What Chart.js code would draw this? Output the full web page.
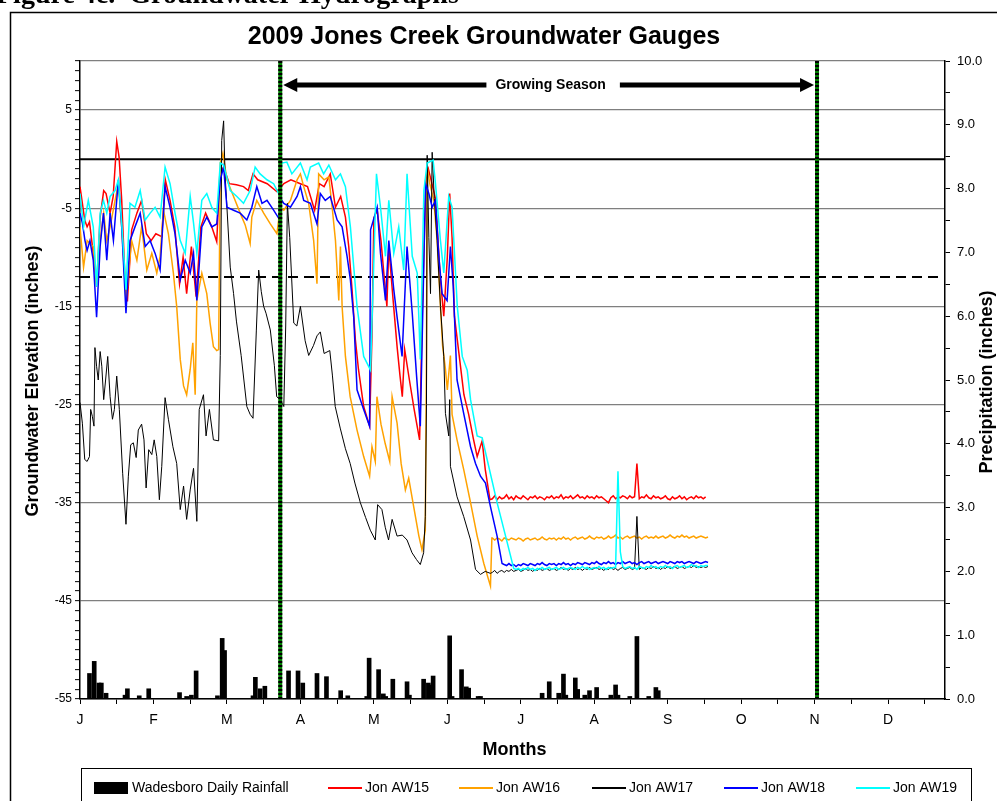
<!DOCTYPE html>
<html>
<head>
<meta charset="utf-8">
<script src="https://cdn.jsdelivr.net/npm/chart.js@4.4.1/dist/chart.umd.min.js"></script>
<style>
  html, body { margin: 0; padding: 0; background: #fff; }
  canvas { display: block; }
</style>
</head>
<body>
<canvas id="chart" width="997" height="801"></canvas>
<script>
// x values are day of year (0 = Jan 1), y values are inches
const monthLabels = ['J', 'F', 'M', 'A', 'M', 'J', 'J', 'A', 'S', 'O', 'N', 'D'];
const leftMajorTicks = [-55, -45, -35, -25, -15, -5, 5];
const seasonStart = 84.5;
const seasonEnd = 311;
const referenceLevel = 0;
const criterionLevel = -12;

const rainDays = [4, 6, 8, 9, 11, 19, 20, 25, 29, 42, 45, 47, 49, 58, 60, 61, 73, 74, 76, 78, 88, 92, 94, 100, 104,
  110, 113, 121, 122, 126, 128, 129, 132, 138, 139, 145, 147, 148, 149, 156, 157, 161, 163, 164, 168, 169,
  195, 198, 202, 204, 205, 209, 210, 213, 215, 218, 224, 226, 227, 232, 235, 240, 243, 244];
const rainInches = [0.40, 0.59, 0.25, 0.25, 0.09, 0.06, 0.16, 0.05, 0.16, 0.10, 0.04, 0.06, 0.44, 0.05, 0.95, 0.76,
  0.05, 0.34, 0.16, 0.20, 0.44, 0.44, 0.25, 0.40, 0.35, 0.13, 0.05, 0.04, 0.64, 0.46, 0.08, 0.04, 0.31, 0.27, 0.06,
  0.31, 0.25, 0.22, 0.36, 0.99, 0.04, 0.46, 0.19, 0.17, 0.04, 0.04, 0.09, 0.27, 0.09, 0.39, 0.06, 0.33, 0.15, 0.06,
  0.13, 0.18, 0.06, 0.22, 0.06, 0.04, 0.98, 0.04, 0.18, 0.13];

// winter / spring readings: [day, inches]
const aw15 = [[0,-2.8],[1,-4.5],[2,-6.2],[3,-6.9],[4,-6.4],[5.6,-9.6],[7,-13],[8.5,-5.9],[10,-3.2],[11,-3.5],
  [12.7,-5.5],[14,-3.8],[15.5,1.8],[16.5,0.2],[17.6,-4.2],[19,-12.3],[20,-14.5],[21.8,-7.2],[24,-5.5],[26,-4.2],
  [28,-7.6],[30,-8.3],[32,-7.6],[34.5,-7.9],[36,-2.1],[38,-4.2],[40,-6.9],[42,-12.7],[43.5,-10],[45,-13.7],
  [47,-8.9],[49,-14],[51,-6.9],[53,-5.5],[55.6,-6.9],[57.7,-8.4],[59,-1.5],[60.6,-0.8],[63,-2.5],[66,-2.6],
  [69,-2.8],[71,-3.2],[73,-1.5],[75,-2.1],[79,-2.5],[83,-3.3],[86,-2.5],[89,-2.1],[93,-2.5],[96,-2.8],[99,-5.2],
  [101,-2.5],[103,-2.8],[105.6,-1.5],[107.8,-4.9],[110,-3.8],[112,-5.9],[113.4,-8.9],[114.8,-13.3],[116.2,-18.4],
  [117.5,-21.4],[119.7,-25.2],[122.2,-27.2],[123.2,-18],[124,-6],[125.4,-5.2],[127,-8.3],[128.2,-11.6],
  [129.5,-15],[130.3,-8.9],[132,-14],[133.8,-19.1],[135,-22],[136,-24.2],[137,-19.4],[139,-22.5],[141,-25.5],
  [143.3,-28.6],[144.5,-15],[146,-2],[147,-1],[148.5,-2.5],[150,-4],[151,-8],[152,-12],[153.5,-16],[155,-10],
  [156,-3.5],[157,-8],[158,-16],[160,-20],[162,-24],[164,-26],[166,-28.5],[167.6,-30.3],[169.7,-28.7],
  [171,-31.6],[173,-34.7]];

const aw16 = [[0,-6.9],[1.5,-11],[3,-8.3],[5.6,-8.9],[7,-12.7],[8.5,-8.3],[10,-5.5],[11.3,-8.3],[12.7,-6.9],
  [14.8,-4.2],[16.2,-2.5],[17.6,-6.9],[19.4,-14.4],[21.8,-8.3],[24,-10.3],[26,-6.9],[28.2,-11.3],[30.3,-9.6],
  [32.4,-11.6],[33.8,-9.9],[35.2,-5.2],[37.3,-7.6],[39.4,-11.6],[40.8,-15],[42.3,-20.4],[43.7,-23.1],[45,-24],
  [46.5,-21.4],[47.6,-18.7],[48.6,-24],[49.3,-14.4],[51.4,-11.6],[53.5,-13.7],[54.9,-16.7],[56.3,-19.1],
  [57.7,-19.5],[58.5,-19.4],[59.2,-0.4],[60.3,0.6],[62,-2.1],[64.8,-3.8],[67.6,-5.5],[69.7,-6.7],[71.8,-8.6],
  [72.5,-5.9],[74.6,-4.2],[77.5,-5.5],[80.3,-6.6],[83.1,-7.6],[84.5,-4.9],[86,-5.2],[88.8,-4.2],[91.6,-2.1],
  [93,-1.5],[94.4,-2.8],[96.5,-4.5],[98.6,-8.3],[100,-12.7],[100.7,-1.5],[103,-2.1],[105,-1.8],[106.4,-4.9],
  [107.8,-8.3],[109.2,-14.4],[109.9,-8.9],[110.6,-15],[112,-20.1],[114,-24.2],[116.9,-27.6],[119.7,-30.3],
  [122.2,-32.3],[123.2,-29.3],[124.6,-30.8],[125.3,-24.2],[127,-27],[128.8,-29],[130.7,-30.8],[131.7,-24.2],
  [133.8,-26.9],[135.5,-31],[137.3,-33.7],[138.7,-32.5],[140.8,-35.4],[143,-38.4],[144.3,-39.8],[145.7,-37.8],
  [146.2,-20],[146.5,-0.8],[147.6,-2.5],[149.3,-4.2],[150.7,-8.3],[152.1,-15],[153,-19],[154.2,-21.4],
  [155,-23.5],[156.3,-20],[157,-26],[159.1,-28.6],[161.9,-31.6],[164.8,-35],[167.6,-38.4],[170.4,-41.2],
  [173.2,-43.5],[173.8,-38.6]];

const aw17 = [[0,-24.8],[1,-26.9],[2,-30.6],[3,-30.8],[4,-30.3],[4.5,-25.5],[5.2,-26.2],[5.9,-27.2],[6.3,-19.2],
  [7,-21.1],[7.7,-22.5],[8.5,-19.6],[9.2,-21.1],[10,-24.5],[10.8,-22.5],[11.7,-20.1],[12.7,-24.2],[13.7,-26.5],
  [14.5,-25.5],[15.5,-22.1],[16.6,-25.5],[18,-32],[19.4,-37.2],[20.4,-32.3],[21.4,-29.1],[22.5,-28.9],
  [23.7,-30.4],[24.6,-27.6],[26,-27],[27,-28.6],[27.9,-33.5],[29,-29.6],[30.3,-30.1],[31.3,-28.6],[32.4,-30.3],
  [33.5,-34.7],[34.5,-31.3],[35.9,-24.3],[37.3,-26.5],[39.2,-29.3],[40.8,-31],[42.3,-35.7],[43.7,-33.3],
  [45,-36.7],[46.5,-33.7],[47.9,-31.5],[49.3,-36.9],[50.3,-25.5],[52.1,-24],[53.2,-28.2],[54.6,-25.5],
  [56.3,-28.6],[58.5,-28.7],[59.2,-20],[59.8,1.9],[60.6,3.9],[61.2,-1.5],[62,-4.9],[63.4,-11],[64.8,-13.7],
  [66,-16.5],[68,-20],[70.4,-25.2],[71.8,-26],[73,-26.4],[74.4,-17.5],[75.4,-11.3],[76.5,-13.5],[77.5,-15],
  [78.5,-15.7],[80.3,-17.4],[82,-21],[83,-24.2],[84.5,-24.5],[86,-25.2],[86.8,-17],[87.5,-4.5],[88.5,-8],
  [89.2,-11.6],[90.2,-16.7],[91.5,-17],[93,-15],[95,-18.5],[96.5,-20],[98.5,-19],[100,-18],[101.4,-17.6],
  [103,-19.8],[105.4,-19.5],[106.5,-22],[107.7,-25.2],[109.8,-27.4],[112,-29.5],[114,-31],[116,-33],
  [118.3,-35],[120.5,-36.5],[122.5,-37.8],[124.6,-38.8],[125.6,-35.2],[127.4,-35.7],[128.8,-37.5],[130.2,-38.8],
  [131.7,-36.7],[133.8,-38.4],[136,-38.3],[138,-38.8],[140.1,-40.1],[142,-40.8],[143.6,-41.3],[145,-40.1],
  [145.7,-36.4],[146.2,-25],[146.5,0.4],[147.2,-8],[147.9,-13.7],[148.6,0.7],[149.5,-4],[150.7,-8.3],
  [152.1,-15],[153.5,-20.1],[154.2,-25.9],[155.6,-28.2],[156,-24.5],[156.3,-31.3],[159.1,-34.4],[161.9,-36.4],
  [164.8,-38.8],[166.9,-41.8],[169,-42.3],[171,-42],[173.2,-42.2]];

const aw18 = [[0,-5.5],[1,-6.5],[2.1,-8.3],[3,-9.3],[4.2,-8.3],[5.6,-10.3],[7,-16.1],[8.5,-8.9],[9.9,-5.5],
  [11.3,-10.3],[12.7,-5.5],[14.1,-8.3],[16.2,-2.1],[17.6,-6.9],[19.4,-15.7],[21.1,-8.3],[23.2,-6.9],[25.4,-5.5],
  [27.5,-8.9],[29.6,-8.3],[31.7,-9.6],[33.8,-11.3],[35.9,-2.8],[38,-4.9],[40.1,-7.6],[42.3,-12.3],[44.4,-10.3],
  [46.5,-11.6],[47.9,-9.6],[49.3,-14.4],[51.4,-6.9],[53.5,-5.9],[55.6,-6.9],[57.7,-6.6],[59.2,-2.1],[60.6,-0.8],
  [62,-4.9],[64.8,-5.2],[67.6,-5.5],[70.4,-6.2],[72.5,-4.9],[74.6,-2.8],[76.8,-4.5],[78.9,-4.2],[81.7,-5.2],
  [83.8,-6],[85.2,-4.2],[86,-4.5],[88.8,-4.9],[91.6,-3.8],[93,-2.8],[94.4,-4.2],[97.2,-4.5],[100,-6.6],
  [101.4,-3.5],[103.5,-4.2],[105.6,-3.8],[108.5,-6.2],[110.6,-6.9],[112.7,-9.9],[114.1,-12.3],[115.5,-16.1],
  [116.9,-23.5],[119.7,-25.5],[122.2,-27.2],[122.6,-7.2],[125.4,-4.9],[126.8,-9.6],[128.9,-14.4],[130.3,-8.3],
  [132.4,-13.3],[133.8,-16.1],[135.9,-20.1],[138,-8.9],[140.2,-15.7],[142,-22],[143.6,-27.2],[145.8,-2.5],
  [147.2,-3.5],[148.6,-4.9],[150,-4.2],[151.4,-9.9],[152.8,-13.7],[154.9,-14.4],[156.3,-8.9],[157.5,-13],
  [159.1,-22.5],[161.9,-25.9],[164.8,-29.3],[166.9,-31],[169,-32.3],[171.1,-33],[173.2,-35.4],[176,-38.4],
  [178.1,-41.2]];

const aw19 = [[0,-3.5],[1.5,-6.9],[3.5,-4.2],[5.6,-6.9],[7,-13],[8.5,-5.5],[9.9,-4.2],[11.3,-5.5],[12.7,-3.8],
  [14.8,-3.2],[16.2,-2.1],[17.6,-6.5],[19.4,-13.3],[21.1,-4.5],[23.2,-4.9],[25.4,-3.2],[27.5,-6.2],[29.6,-5.5],
  [31.7,-4.9],[33.8,-5.9],[35.9,-0.8],[38,-2.5],[40.1,-5.5],[42.3,-8.3],[44.4,-9.6],[46.5,-3.8],[47.9,-6.5],
  [49.3,-9.6],[51.4,-4.2],[53.5,-3.5],[55.6,-4.9],[57.7,-5.5],[59.2,-0.4],[60.6,-0.6],[63.4,-3.2],[66.2,-3.8],
  [69,-4.5],[71.8,-3.2],[73.9,-0.8],[76,-1.5],[78.9,-2.1],[81.7,-2.5],[83.8,-3.5],[85.2,-0.4],[87.3,-0.3],
  [89.4,-1.5],[93,-0.4],[95.8,-2.1],[97.2,-0.8],[100.7,-0.4],[102.8,-1.5],[105,-0.6],[107.8,-2.1],[109.9,-1.5],
  [112,-2.8],[114.1,-6.9],[116.9,-15],[119.7,-20.1],[122.6,-21.5],[125.1,-1.5],[126.8,-4.9],[128.9,-9.9],
  [130.3,-4.2],[132.4,-9.6],[134.5,-6.9],[136.6,-11.3],[138,-1.5],[140.2,-9.9],[142.3,-11.6],[143.6,-20.4],
  [145.1,-3.2],[146.5,-0.4],[149,-0.1],[150,-2.5],[152.1,-8.3],[153.5,-11.6],[155.6,-3.8],[157,-4.9],
  [159.2,-15],[161.3,-20.1],[163.4,-21.5],[164.8,-24.5],[167.6,-28.2],[169.7,-28.4],[171.8,-30.6],[176,-35],
  [180.3,-39.1],[183,-41.7]];

// summer readings, one per day from the given start day
const aw15LateStart = 174;
const aw15Late = [-34.6,-34.3,-34.7,-34.4,-34.6,-34.5,-34.2,-34.6,-34.4,-34.7,
  -34.3,-34.5,-34.6,-34.3,-34.5,-34.7,-34.4,-34.5,-34.3,-34.6,
  -34.4,-34.5,-34.7,-34.4,-34.5,-34.3,-34.6,-34.4,-34.5,-34.2,
  -34.6,-34.4,-34.5,-34.3,-34.6,-34.4,-34.2,-34.5,-34.4,-34.6,
  -34.3,-34.5,-34.4,-34.6,-34.3,-34.5,-34.4,-34.6,-34.8,-35.0,
  -34.5,-34.3,-34.6,-34.4,-34.5,-34.3,-34.4,-34.6,-34.3,-34.5,
  -34.4,-31.0,-34.6,-34.4,-34.5,-34.2,-34.5,-34.6,-34.3,-34.5,
  -34.4,-34.6,-34.5,-34.3,-34.6,-34.7,-34.4,-34.6,-34.5,-34.3,
  -34.6,-34.4,-34.7,-34.5,-34.4,-34.6,-34.3,-34.5,-34.4,-34.6,
  -34.4];
const aw16LateStart = 174;
const aw16Late = [-38.6,-38.8,-38.6,-38.7,-38.9,-38.6,-38.7,-38.8,-38.6,-38.7,
  -38.8,-38.6,-38.7,-38.9,-38.7,-38.6,-38.8,-38.7,-38.6,-38.8,
  -38.7,-38.5,-38.7,-38.8,-38.6,-38.7,-38.6,-38.8,-38.6,-38.7,
  -38.5,-38.7,-38.6,-38.8,-38.6,-38.5,-38.7,-38.6,-38.5,-38.7,
  -38.6,-38.4,-38.6,-38.7,-38.5,-38.6,-38.5,-38.7,-38.6,-38.4,
  -38.6,-38.5,-38.3,-38.6,-38.5,-38.7,-38.5,-38.4,-38.6,-38.5,
  -38.4,-38.6,-38.5,-38.7,-38.5,-38.4,-38.6,-38.5,-38.6,-38.4,
  -38.6,-38.5,-38.4,-38.6,-38.5,-38.3,-38.5,-38.6,-38.4,-38.5,
  -38.3,-38.5,-38.4,-38.6,-38.5,-38.4,-38.6,-38.5,-38.4,-38.5,
  -38.6,-38.5];
const aw17LateStart = 174;
const aw17Late = [-42.1,-41.9,-42.2,-42.0,-41.9,-42.1,-41.9,-42.0,-41.8,-42.0,
  -41.9,-41.8,-42.0,-41.9,-41.7,-41.9,-41.8,-42.0,-41.8,-41.9,
  -41.7,-41.9,-41.8,-41.7,-41.9,-41.8,-41.7,-41.9,-41.8,-41.6,
  -41.8,-41.7,-41.9,-41.7,-41.8,-41.6,-41.8,-41.7,-41.9,-41.7,
  -41.8,-41.6,-41.8,-41.7,-41.6,-41.8,-41.7,-41.9,-41.7,-41.8,
  -41.6,-41.8,-41.7,-41.9,-41.7,-41.6,-41.8,-41.7,-41.6,-41.8,
  -41.7,-36.4,-41.8,-41.6,-41.7,-41.8,-41.6,-41.7,-41.5,-41.7,
  -41.6,-41.8,-41.6,-41.7,-41.5,-41.7,-41.6,-41.5,-41.7,-41.6,
  -41.5,-41.7,-41.6,-41.5,-41.6,-41.4,-41.6,-41.5,-41.6,-41.5,
  -41.6,-41.5];
const aw18LateStart = 179;
const aw18Late = [-41.3,-41.4,-41.2,-41.4,-41.3,-41.5,-41.3,-41.4,-41.2,-41.3,
  -41.4,-41.2,-41.3,-41.4,-41.2,-41.3,-41.1,-41.3,-41.4,-41.2,
  -41.3,-41.2,-41.4,-41.2,-41.3,-41.1,-41.3,-41.2,-41.4,-41.2,
  -41.3,-41.1,-41.2,-41.3,-41.1,-41.2,-41.3,-41.1,-41.2,-41.0,
  -41.2,-41.3,-41.1,-41.2,-41.0,-41.2,-41.1,-41.3,-41.1,-41.2,
  -41.0,-41.2,-41.1,-41.0,-41.2,-41.1,-41.3,-41.1,-41.0,-41.2,
  -41.1,-41.0,-41.2,-41.1,-41.0,-41.2,-41.1,-41.0,-41.1,-41.2,
  -41.0,-41.1,-41.2,-41.0,-41.1,-41.0,-41.2,-41.1,-41.0,-41.1,
  -41.2,-41.0,-41.1,-41.2,-41.1,-41.0,-41.1];
const aw19LateStart = 184;
const aw19Late = [-41.8,-41.7,-41.9,-41.7,-41.8,-41.6,-41.8,-41.7,-41.9,-41.7,
  -41.8,-41.6,-41.8,-41.7,-41.6,-41.8,-41.7,-41.6,-41.8,-41.7,
  -41.6,-41.8,-41.7,-41.6,-41.7,-41.8,-41.6,-41.7,-41.5,-41.7,
  -41.6,-41.8,-41.7,-41.6,-41.7,-41.5,-41.7,-41.6,-41.8,-41.6,
  -41.7,-41.6,-41.6,-31.8,-40.0,-41.5,-41.7,-41.6,-41.5,-41.7,
  -41.6,-41.8,-41.5,-41.6,-41.7,-41.5,-41.6,-41.4,-41.6,-41.5,
  -41.7,-41.5,-41.6,-41.4,-41.6,-41.5,-41.7,-41.5,-41.4,-41.6,
  -41.5,-41.4,-41.6,-41.5,-41.3,-41.5,-41.4,-41.6,-41.4,-41.5,
  -41.4,-41.4];

const xTickValues = [];
for (let i = 0; i * 15.5 <= 365; i++) xTickValues.push(i * 15.5);
const leftTickValues = [];
for (let v = -55; v <= 10; v++) leftTickValues.push(v);
const rightTickValues = [];
for (let i = 0; i <= 20; i++) rightTickValues.push(i * 0.5);

const FONT = 'Liberation Sans, Arial, sans-serif';

function joinSeries(early, lateStart, late) {
  return early.map(([x, y]) => ({ x, y })).concat(late.map((y, i) => ({ x: lateStart + i, y })));
}

function lineSet(label, points, color, width, order) {
  return {
    type: 'line', label, data: points, borderColor: color, backgroundColor: color,
    borderWidth: width, pointRadius: 0, tension: 0, yAxisID: 'y', order, inLegend: true
  };
}

const datasets = [
  {
    type: 'bar', label: 'Wadesboro Daily Rainfall', yAxisID: 'y1', order: 5, inLegend: true,
    data: rainDays.map((d, i) => ({ x: d, y: rainInches[i] })),
    backgroundColor: '#000', borderColor: '#000', barThickness: 4, grouped: false
  },
  lineSet('Jon AW15', joinSeries(aw15, aw15LateStart, aw15Late), '#ff0000', 1.5, 4),
  lineSet('Jon AW16', joinSeries(aw16, aw16LateStart, aw16Late), '#ffa200', 1.5, 3),
  lineSet('Jon AW17', joinSeries(aw17, aw17LateStart, aw17Late), '#000000', 1, 2),
  lineSet('Jon AW18', joinSeries(aw18, aw18LateStart, aw18Late), '#0000ff', 1.5, 1),
  lineSet('Jon AW19', joinSeries(aw19, aw19LateStart, aw19Late), '#00ffff', 1.5, 0),
  {
    type: 'line', label: 'ref', data: [{ x: 0, y: referenceLevel }, { x: 365, y: referenceLevel }],
    borderColor: '#000', borderWidth: 2, pointRadius: 0, yAxisID: 'y', order: 6
  },
  {
    type: 'line', label: 'crit', data: [{ x: 0, y: criterionLevel }, { x: 365, y: criterionLevel }],
    borderColor: '#000', borderWidth: 2, borderDash: [10, 6], pointRadius: 0, yAxisID: 'y', order: 7
  }
];

const decorations = {
  id: 'decorations',
  beforeDraw(chart) {
    const c = chart.ctx;
    c.save();
    c.fillStyle = '#fff';
    c.fillRect(0, 0, chart.width, chart.height);
    c.strokeStyle = '#000';
    c.lineWidth = 1.5;
    c.strokeRect(10.5, 12.5, 1000, 820);
    c.fillStyle = '#000';
    c.font = 'bold 28px Liberation Serif, Times New Roman, serif';
    c.textAlign = 'left';
    c.textBaseline = 'alphabetic';
    c.fillText('Figure 4c.  Groundwater Hydrographs', -4, 3);
    c.restore();
  },
  afterDatasetsDraw(chart) {
    const c = chart.ctx;
    const area = chart.chartArea;
    const xs = chart.scales.x;
    const x1 = xs.getPixelForValue(seasonStart);
    const x2 = xs.getPixelForValue(seasonEnd);
    c.save();
    [x1, x2].forEach((px) => {
      c.beginPath();
      c.strokeStyle = '#008000';
      c.lineWidth = 4;
      c.moveTo(px, area.top);
      c.lineTo(px, area.bottom);
      c.stroke();
      c.beginPath();
      c.strokeStyle = '#000';
      c.lineWidth = 4;
      c.setLineDash([2, 2]);
      c.moveTo(px, area.top);
      c.lineTo(px, area.bottom);
      c.stroke();
      c.setLineDash([]);
    });
    // growing season arrow
    const ay = area.top + 24;
    const label = 'Growing Season';
    c.font = 'bold 14px ' + FONT;
    const tw = c.measureText(label).width;
    const mid = (x1 + x2) / 2 + 2;
    c.fillStyle = '#000';
    c.strokeStyle = '#000';
    c.lineWidth = 5;
    c.beginPath();
    c.moveTo(x1 + 14, ay);
    c.lineTo(mid - tw / 2 - 9, ay);
    c.moveTo(mid + tw / 2 + 14, ay);
    c.lineTo(x2 - 14, ay);
    c.stroke();
    c.beginPath();
    c.moveTo(x1 + 3, ay);
    c.lineTo(x1 + 17, ay - 7);
    c.lineTo(x1 + 17, ay + 7);
    c.closePath();
    c.moveTo(x2 - 3, ay);
    c.lineTo(x2 - 17, ay - 7);
    c.lineTo(x2 - 17, ay + 7);
    c.closePath();
    c.fill();
    c.textAlign = 'center';
    c.textBaseline = 'middle';
    c.fillText(label, mid, ay);
    c.restore();
  },
  afterDraw(chart) {
    const c = chart.ctx;
    const area = chart.chartArea;
    c.save();
    c.fillStyle = '#000';
    c.textAlign = 'center';
    c.textBaseline = 'middle';
    c.font = 'bold 25px ' + FONT;
    c.fillText('2009 Jones Creek Groundwater Gauges', 484, 37);
    c.font = 'bold 18px ' + FONT;
    c.fillText('Months', (area.left + area.right) / 2 + 2, 750);
    c.save();
    c.translate(33, 381);
    c.rotate(-Math.PI / 2);
    c.fillText('Groundwater Elevation (inches)', 0, 0);
    c.restore();
    c.save();
    c.translate(987, 382);
    c.rotate(-Math.PI / 2);
    c.fillText('Precipitation (inches)', 0, 0);
    c.restore();

    // legend
    c.strokeStyle = '#000';
    c.lineWidth = 1;
    c.strokeRect(81.5, 768.5, 890, 60);
    const slots = [94, 328, 459, 592, 724, 856];
    const entries = chart.data.datasets.filter((d) => d.inLegend);
    c.font = '14px ' + FONT;
    c.textAlign = 'left';
    entries.forEach((d, i) => {
      const sx = slots[i];
      const ly = 788;
      if (d.type === 'bar') {
        c.fillStyle = '#000';
        c.fillRect(sx, ly - 6, 34, 12);
      } else {
        c.strokeStyle = d.borderColor;
        c.lineWidth = 2;
        c.beginPath();
        c.moveTo(sx, ly);
        c.lineTo(sx + 34, ly);
        c.stroke();
      }
      c.fillStyle = '#000';
      c.fillText(d.label, sx + (d.type === 'bar' ? 38 : 37), ly);
    });
    c.restore();
  }
};

new Chart(document.getElementById('chart'), {
  type: 'line',
  data: { datasets },
  options: {
    responsive: false,
    animation: false,
    devicePixelRatio: 1,
    layout: { padding: { top: 61, left: 0, right: 0, bottom: 0 } },
    plugins: { legend: { display: false }, tooltip: { enabled: false } },
    scales: {
      x: {
        type: 'linear', min: 0, max: 365, position: 'bottom', offset: false,
        afterBuildTicks: (axis) => { axis.ticks = xTickValues.map((v) => ({ value: v })); },
        afterFit: (axis) => { axis.height = 102; },
        grid: { drawOnChartArea: false, drawTicks: true, tickLength: 5, tickColor: '#000', tickWidth: 1, offset: false },
        border: { color: '#000', width: 1.5 },
        ticks: {
          autoSkip: false, maxRotation: 0, padding: 8, color: '#000', font: { family: FONT, size: 14 },
          callback: (v, i) => (i % 2 === 0 ? monthLabels[i / 2] : '')
        }
      },
      y: {
        position: 'left', min: -55, max: 10,
        afterBuildTicks: (axis) => { axis.ticks = leftTickValues.map((v) => ({ value: v })); },
        afterFit: (axis) => { axis.width = 80; },
        grid: {
          color: (ctx) => (ctx.tick && (leftMajorTicks.includes(ctx.tick.value) || ctx.tick.value === 10)) ? '#7f7f7f' : 'rgba(0,0,0,0)',
          lineWidth: 1.3, tickColor: '#000', tickWidth: 1, tickLength: 5
        },
        border: { color: '#000', width: 1.5 },
        ticks: {
          autoSkip: false, padding: 3, color: '#000', font: { family: FONT, size: 12 },
          callback: (v) => (leftMajorTicks.includes(v) ? String(v) : '')
        }
      },
      y1: {
        position: 'right', min: 0, max: 10,
        afterBuildTicks: (axis) => { axis.ticks = rightTickValues.map((v) => ({ value: v })); },
        afterFit: (axis) => { axis.width = 52; },
        grid: { drawOnChartArea: false, tickColor: '#000', tickWidth: 1, tickLength: 5 },
        border: { color: '#000', width: 1.5 },
        ticks: {
          autoSkip: false, padding: 7, color: '#000', font: { family: FONT, size: 13 },
          callback: (v) => (Number.isInteger(v) ? v.toFixed(1) : '')
        }
      }
    }
  },
  plugins: [decorations]
});
</script>
</body>
</html>
